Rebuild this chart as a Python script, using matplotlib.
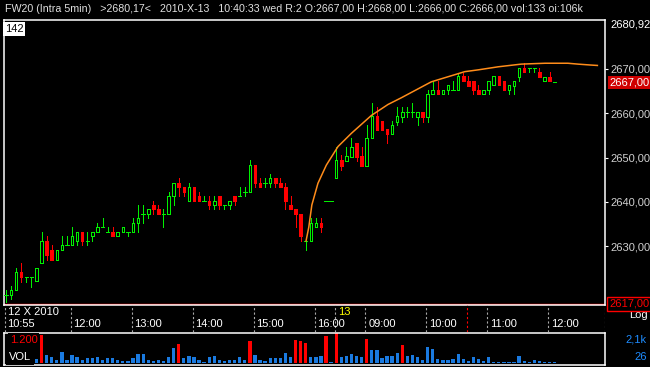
import matplotlib
matplotlib.use('Agg')
import matplotlib.pyplot as plt
import numpy as np

plt.rcParams['font.family'] = ['Liberation Sans', 'DejaVu Sans']

# ---------------- data (5-minute bars, index 0 = 12 X 2010 10:55) ----------------
open_ = [2619.0, 2618.9, 2620.1, 2624.2, 2623.0, 2623.0, 2622.1, 2626.1, 2631.2, 2629.1,
         2627.0, 2629.1, 2630.3, 2630.3, 2631.2, 2633.1, 2631.2, 2632.3, 2633.1, 2634.3,
         2633.2, 2633.2, 2632.2, 2633.2, 2633.2, 2633.2, 2635.2, 2637.3, 2637.3, 2639.3,
         2638.3, 2637.3, 2637.3, 2641.3, 2644.3, 2643.3, 2640.2, 2643.3, 2641.3, 2640.2,
         2640.2, 2639.3, 2641.3, 2639.3, 2639.3, 2641.3, 2641.3, 2642.3, 2642.2, 2648.3,
         2644.2, 2644.3, 2644.2, 2645.3, 2644.2, 2643.3, 2639.3, 2638.3, 2637.3, 2631.2,
         2631.2, 2634.3, 2635.2, 2640.1, 2640.1, 2645.3, 2649.5, 2649.3, 2650.2, 2653.2,
         2650.4, 2648.2, 2654.4, 2659.4, 2658.3, 2656.5, 2655.3, 2658.1, 2659.2, 2660.2,
         2660.2, 2659.2, 2660.2, 2659.2, 2664.3, 2665.3, 2664.3, 2665.3, 2665.3, 2665.3,
         2668.4, 2667.3, 2667.3, 2665.3, 2664.3, 2665.3, 2666.4, 2668.4, 2667.3, 2665.3,
         2666.2, 2668.3, 2670.2, 2670.2, 2670.2, 2669.3, 2667.3, 2668.3, 2667.0]
high = [2620.1, 2621.0, 2625.1, 2626.3, 2623.0, 2623.0, 2625.0, 2633.3, 2632.3, 2630.3,
        2629.1, 2632.3, 2632.3, 2634.3, 2633.1, 2633.1, 2633.1, 2633.1, 2635.3, 2636.4,
        2634.3, 2634.3, 2633.2, 2634.3, 2633.2, 2636.3, 2639.3, 2639.3, 2638.3, 2640.3,
        2639.3, 2638.3, 2642.3, 2644.3, 2645.3, 2643.3, 2644.3, 2643.3, 2642.3, 2641.3,
        2641.3, 2641.3, 2641.3, 2639.3, 2640.2, 2641.3, 2643.3, 2643.3, 2649.5, 2648.3,
        2645.3, 2645.3, 2646.3, 2645.3, 2645.3, 2644.2, 2641.3, 2638.3, 2637.3, 2631.2,
        2636.3, 2636.3, 2636.3, 2640.1, 2640.1, 2652.5, 2650.6, 2652.5, 2654.5, 2653.2,
        2652.5, 2657.4, 2662.3, 2661.4, 2658.3, 2656.5, 2658.3, 2661.4, 2661.4, 2661.4,
        2662.4, 2660.2, 2660.2, 2665.3, 2667.0, 2667.4, 2665.3, 2666.4, 2667.4, 2669.2,
        2669.2, 2668.4, 2667.3, 2666.4, 2665.3, 2667.3, 2668.4, 2668.4, 2667.3, 2666.4,
        2667.3, 2670.2, 2671.3, 2670.2, 2670.2, 2670.2, 2668.3, 2669.3, 2667.0]
low = [2617.5, 2618.0, 2620.1, 2622.0, 2622.0, 2620.9, 2622.1, 2626.1, 2627.0, 2627.0,
       2627.0, 2629.1, 2630.3, 2630.3, 2630.3, 2630.3, 2630.3, 2631.2, 2633.1, 2634.3,
       2633.2, 2632.2, 2632.2, 2633.2, 2632.2, 2633.2, 2633.2, 2635.2, 2636.3, 2637.3,
       2637.3, 2634.3, 2637.3, 2639.3, 2641.3, 2641.3, 2640.2, 2640.2, 2640.2, 2640.2,
       2638.3, 2638.3, 2638.3, 2638.3, 2638.3, 2639.3, 2641.3, 2641.3, 2642.2, 2643.3,
       2643.3, 2643.3, 2643.3, 2643.3, 2643.3, 2638.3, 2638.3, 2634.3, 2631.2, 2629.1,
       2631.2, 2634.3, 2633.2, 2640.1, 2640.1, 2645.3, 2647.2, 2649.3, 2650.2, 2649.3,
       2648.2, 2648.2, 2654.4, 2656.2, 2656.2, 2653.2, 2655.3, 2657.4, 2658.1, 2659.2,
       2659.2, 2657.4, 2658.1, 2658.1, 2664.3, 2664.3, 2664.3, 2664.3, 2665.3, 2665.3,
       2667.3, 2666.2, 2664.3, 2664.3, 2664.3, 2664.3, 2666.4, 2666.4, 2665.3, 2664.3,
       2664.3, 2667.3, 2669.3, 2669.3, 2669.3, 2668.3, 2667.3, 2667.3, 2667.0]
close = [2619.0, 2620.1, 2624.2, 2623.0, 2623.0, 2623.0, 2625.0, 2631.2, 2628.0, 2627.0,
         2629.1, 2630.3, 2630.3, 2632.3, 2633.1, 2631.2, 2631.2, 2633.1, 2634.3, 2634.3,
         2633.2, 2632.2, 2633.2, 2634.3, 2633.2, 2635.2, 2636.3, 2637.3, 2638.3, 2638.3,
         2637.3, 2637.3, 2641.3, 2644.3, 2643.3, 2642.2, 2643.3, 2640.2, 2640.2, 2640.2,
         2639.3, 2640.2, 2639.3, 2639.3, 2640.2, 2640.2, 2641.3, 2642.3, 2648.3, 2644.2,
         2643.3, 2644.3, 2645.3, 2644.2, 2643.3, 2640.2, 2638.3, 2637.3, 2632.2, 2631.2,
         2635.2, 2635.2, 2634.3, 2640.1, 2640.1, 2649.5, 2648.2, 2650.4, 2652.5, 2650.2,
         2648.2, 2654.4, 2659.4, 2656.2, 2656.2, 2655.3, 2657.4, 2659.4, 2660.2, 2660.2,
         2660.2, 2660.2, 2659.2, 2664.3, 2665.3, 2664.3, 2665.3, 2666.4, 2665.3, 2668.4,
         2667.3, 2666.2, 2665.3, 2664.3, 2665.3, 2667.3, 2668.4, 2666.4, 2665.3, 2666.4,
         2667.3, 2670.2, 2669.3, 2670.2, 2670.2, 2668.3, 2668.3, 2667.3, 2667.0]
volume = [np.nan, np.nan, np.nan, np.nan, np.nan, np.nan, 260, 1980, 580, 400,
          230, 770, 230, 580, 400, 230, 330, 330, 400, 230,
          330, 330, 230, 140, 140, 330, 650, 650, 230, 160,
          230, 160, 400, 1070, 1350, 330, 510, 400, 230, 70,
          440, 490, 230, 160, 230, 230, 400, 230, 1520, 580,
          230, 160, 330, 330, 330, 720, 440, 1590, 1520, 1420,
          400, 440, 520, 1890, 70, 2100, 400, 470, 650, 510,
          400, 1680, 890, 890, 330, 470, 470, 720, 1240, 470,
          580, 400, 230, 1100, 980, 300, 230, 230, 300, 650,
          300, 160, 400, 300, 140, 400, 70, 50, 50, 50,
          70, 470, 160, 70, 230, 160, 70, 50, 50]
vol_threshold = 1200

# orange arc indicator (bar index, price)
arc_x = [59.06, 59.6, 60.2, 61.4, 63.05, 65.35, 68.0, 71.9, 75.2, 77.8,
         83.7, 90.3, 92.9, 96.9, 101.4, 106.1, 110.6, 112.6, 115.0, 116.4]
arc_y = [2631.2, 2634.3, 2639.3, 2644.2, 2648.3, 2652.5, 2655.5, 2659.5, 2662.0, 2663.5,
         2667.1, 2669.4, 2669.8, 2670.5, 2671.1, 2671.3, 2671.3, 2671.1, 2670.9, 2670.8]

time_tick_idx = [0, 13, 25, 37, 49, 61, 71, 83, 95, 107]
time_tick_lbl = ["10:55", "12:00", "13:00", "14:00", "15:00", "16:00", "09:00", "10:00", "11:00", "12:00"]
day_tick_idx = [0, 65]
day_tick_lbl = ["12 X 2010", "13"]
cursor_idx = 91

price_ticks = [2630, 2640, 2650, 2660, 2670]
price_top = 2680.92
last_price = 2667.00
alert_level = 2617.00

header = ("FW20 (Intra 5min)   >2680,17<   2010-X-13   10:40:33 wed R:2 O:2667,00 "
          "H:2668,00 L:2666,00 C:2666,00 vol:133 oi:106k")

# ---------------- styling ----------------
GREEN = '#00f000'
RED = '#ff0000'
BLUE = '#1a7ae0'
ORANGE = '#ff8c1a'
TXT = '#e0e0e0'
W, H = 650, 367
PX = 0.72  # one pixel in points

def fx(px):
    return px / W

def fy(py):
    return 1 - py / H

fig = plt.figure(figsize=(6.5, 3.67), dpi=100, facecolor='black')
XL = (-0.39, 117.9)

ax = fig.add_axes([fx(4), fy(305), fx(605) - fx(4), fy(20) - fy(305)])
axb = fig.add_axes([fx(4), fy(332), fx(605) - fx(4), fy(305) - fy(332)])
axv = fig.add_axes([fx(4), fy(365), fx(605) - fx(4), fy(333) - fy(365)])

# ---------------- price panel ----------------
ax.set_facecolor('black')
idx = np.arange(len(open_))
o = np.array(open_); h = np.array(high); l = np.array(low); c = np.array(close)
up = c >= o
cols = np.where(up, GREEN, RED)

ax.vlines(idx, l, h, colors=cols, lw=PX, zorder=2, antialiased=False)
body = np.abs(c - o) > 1e-9
bars = ax.bar(idx[body], np.abs(c - o)[body], bottom=np.minimum(o, c)[body], width=0.5,
              facecolor=np.where(up[body], 'black', RED), edgecolor=cols[body], lw=PX, zorder=3)
for b in bars:
    b.set_antialiased(False)
doji = ~body
ax.hlines(o[doji], idx[doji] - 0.34, idx[doji] + 0.34, colors=cols[doji], lw=PX, zorder=3,
          antialiased=False)

ax.plot(arc_x, arc_y, color=ORANGE, lw=1.1, zorder=4)
ax.axhline(alert_level, color=RED, lw=1.0, zorder=1)

ax.set_xlim(*XL)
ax.set_ylim(2616.73, 2681.06)
ax.set_xticks([])
ax.yaxis.tick_right()
ax.set_yticks(price_ticks)
ax.set_yticklabels([f"{v:.2f}".replace('.', ',') for v in price_ticks], color='#d0d0d0', fontsize=8)
ax.tick_params(axis='y', length=2, width=0.8, color='white', pad=2)
for s in ax.spines.values():
    s.set_color('white')
    s.set_linewidth(1.1)

kw = dict(xycoords=('axes fraction', 'data'), textcoords='offset pixels', ha='left',
          fontsize=8, annotation_clip=False)
ax.annotate(f"{price_top:.2f}".replace('.', ','), xy=(1, price_top), xytext=(5, -4),
            va='center', color='white', **kw)
ax.annotate(f"{last_price:.2f}".replace('.', ','), xy=(1, last_price), xytext=(4, 0),
            va='center', color='white', zorder=6,
            bbox=dict(boxstyle='square,pad=0.12', fc='#d00000', ec='none'), **kw)
ax.annotate("Log", xy=(1, alert_level), xytext=(24, -11), va='center', color='white', zorder=5, **kw)
ax.annotate(f"{alert_level:.2f}".replace('.', ','), xy=(1, alert_level), xytext=(4, 0),
            va='center', color=RED, zorder=7,
            bbox=dict(boxstyle='square,pad=0.2', fc='black', ec=RED, lw=1), **kw)

# ---------------- time band ----------------
axb.set_facecolor('black')
axb.set_xlim(*XL)
axb.set_ylim(0, 1)
axb.axis('off')
line_pos = [t - 0.25 for t in sorted(set(time_tick_idx + day_tick_idx))] + [XL[1] - 0.05]
axb.vlines(line_pos, 0, 1, colors='#a8a8a8', linestyles=(0, (2, 2)), lw=0.8)
axb.vlines([cursor_idx - 0.25], 0, 1, colors=RED, linestyles=(0, (2, 2)), lw=0.8)
for t, s in zip(time_tick_idx, time_tick_lbl):
    axb.text(t + 0.3, 0.29, s, color='white', fontsize=8, ha='left', va='center')
for t, s, col in zip(day_tick_idx, day_tick_lbl, ['white', '#ffff00']):
    axb.text(t + 0.3, 0.74, s, color=col, fontsize=8, ha='left', va='center')

# ---------------- volume panel ----------------
axv.set_facecolor('black')
vol = np.array(volume, dtype=float)
vcols = np.where(vol > vol_threshold, RED, BLUE)
vbars = axv.bar(idx, vol, width=0.65, color=vcols, zorder=2)
for b in vbars:
    b.set_antialiased(False)
axv.set_xlim(*XL)
axv.set_ylim(-140, 2100)
axv.set_xticks([]); axv.set_yticks([])
for s in axv.spines.values():
    s.set_color('white')
    s.set_linewidth(1.1)

fig.text(fx(10), fy(340), f"{vol_threshold:,}".replace(',', '.'), color=RED, fontsize=8,
         ha='left', va='center', bbox=dict(boxstyle='square,pad=0.15', fc='black', ec='none'))
fig.text(fx(9), fy(357), "VOL", color='white', fontsize=8, ha='left', va='center',
         bbox=dict(boxstyle='square,pad=0.25', fc='black', ec='none'))
fig.text(fx(647), fy(340), "2,1k", color='#1e8cff', fontsize=8, ha='right', va='center')
fig.text(fx(647), fy(357), "26", color='#1e8cff', fontsize=8, ha='right', va='center')

# ---------------- header ----------------
fig.text(fx(5), fy(9), header, color=TXT, fontsize=7.7, ha='left', va='center')
fig.text(fx(5), fy(29), "142", color='black', fontsize=8, ha='left', va='center',
         bbox=dict(boxstyle='square,pad=0.15', fc='white', ec='none'))

fig.savefig('out.png', dpi=100, facecolor='black')
